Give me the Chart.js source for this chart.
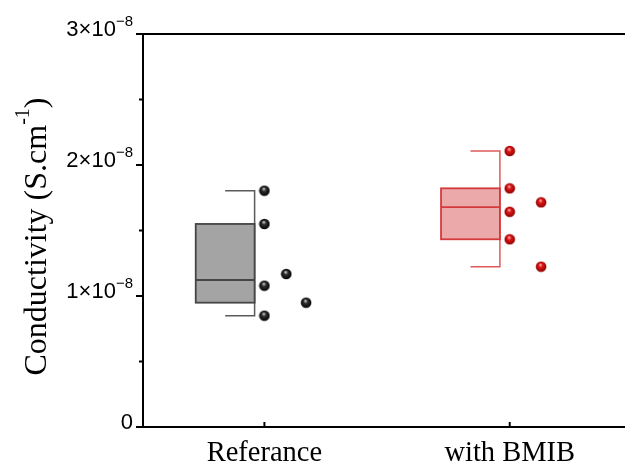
<!DOCTYPE html>
<html>
<head>
<meta charset="utf-8">
<script src="https://cdn.jsdelivr.net/npm/chart.js@4"></script>
<style>
  html, body { margin: 0; padding: 0; background: #fff; }
  #wrap { width: 625px; height: 466px; }
</style>
</head>
<body>
<div id="wrap"><canvas id="plot"></canvas></div>
<script>
// Conductivity in units of 1e-8 S/cm
const categories = ['Referance', 'with BMIB'];

const refX = [1, 1, 1.089, 1, 1.17, 1];
const refY = [1.804, 1.550, 1.168, 1.079, 0.949, 0.850];
const bmibX = [2, 2, 2.128, 2, 2, 2.128];
const bmibY = [2.107, 1.822, 1.715, 1.643, 1.433, 1.224];

// box statistics: whisker low, Q1, median, Q3, whisker high
const boxLow = [0.850, 1.224];
const boxQ1 = [0.949, 1.433];
const boxMedian = [1.122, 1.679];
const boxQ3 = [1.550, 1.822];
const boxHigh = [1.804, 2.107];

const yTicks = [0, 1, 2, 3];
const yMinorTicks = [0.5, 1.5, 2.5];

const boxColors = [
  { fill: '#a4a4a4', border: '#454545', whisker: '#5a5a5a' },
  { fill: '#eba9aa', border: '#d43a3c', whisker: '#e05a5c' }
];

// small shaded ball used as point marker
function sphere(light, mid, dark) {
  const c = document.createElement('canvas');
  c.width = 12; c.height = 12;
  const g = c.getContext('2d');
  const grad = g.createRadialGradient(5.3, 4, 0.3, 6, 6, 5.5);
  grad.addColorStop(0, light);
  grad.addColorStop(0.35, mid);
  grad.addColorStop(1, dark);
  g.fillStyle = grad;
  g.beginPath();
  g.arc(6, 6, 5.3, 0, Math.PI * 2);
  g.fill();
  return c;
}
const blackBall = sphere('#d0d0d0', '#303030', '#000');
const redBall = sphere('#ffb0b0', '#dd1515', '#8c0000');

const toPoints = (xs, ys) => xs.map((x, i) => ({ x: x, y: ys[i] }));

const boxPlugin = {
  id: 'boxes',
  beforeDatasetsDraw(chart) {
    const ctx = chart.ctx;
    const xs = chart.scales.x, ys = chart.scales.y;
    ctx.save();
    categories.forEach((cat, i) => {
      const c = i + 1;
      const col = boxColors[i];
      const xl = xs.getPixelForValue(c - 0.28);
      const xr = xs.getPixelForValue(c - 0.04);
      const xcap = xs.getPixelForValue(c - 0.16);
      const yq1 = ys.getPixelForValue(boxQ1[i]);
      const yq3 = ys.getPixelForValue(boxQ3[i]);
      const ymed = ys.getPixelForValue(boxMedian[i]);
      const ylo = ys.getPixelForValue(boxLow[i]);
      const yhi = ys.getPixelForValue(boxHigh[i]);

      // whiskers
      ctx.strokeStyle = col.whisker;
      ctx.lineWidth = 1.5;
      ctx.beginPath();
      ctx.moveTo(xcap, yhi); ctx.lineTo(xr, yhi); ctx.lineTo(xr, ylo); ctx.lineTo(xcap, ylo);
      ctx.stroke();

      // box
      ctx.fillStyle = col.fill;
      ctx.fillRect(xl, yq3, xr - xl, yq1 - yq3);
      ctx.strokeStyle = col.border;
      ctx.lineWidth = 1.8;
      ctx.strokeRect(xl, yq3, xr - xl, yq1 - yq3);
      ctx.beginPath();
      ctx.moveTo(xl, ymed); ctx.lineTo(xr, ymed);
      ctx.stroke();
    });
    ctx.restore();
  },
  afterDraw(chart) {
    const ctx = chart.ctx;
    const xs = chart.scales.x, ys = chart.scales.y;
    const a = chart.chartArea;
    ctx.save();
    ctx.strokeStyle = '#000';
    ctx.fillStyle = '#000';

    // frame: top line
    ctx.lineWidth = 2;
    ctx.beginPath();
    ctx.moveTo(a.left - 1, a.top); ctx.lineTo(a.right, a.top);
    ctx.stroke();

    // y ticks
    yTicks.forEach(v => {
      const y = ys.getPixelForValue(v);
      ctx.beginPath(); ctx.moveTo(a.left - 7, y); ctx.lineTo(a.left, y); ctx.stroke();
    });
    yMinorTicks.forEach(v => {
      const y = ys.getPixelForValue(v);
      ctx.beginPath(); ctx.moveTo(a.left - 4, y); ctx.lineTo(a.left, y); ctx.stroke();
    });
    // x ticks (inside)
    categories.forEach((cat, i) => {
      const x = xs.getPixelForValue(i + 1);
      ctx.beginPath(); ctx.moveTo(x, a.bottom); ctx.lineTo(x, a.bottom - 5); ctx.stroke();
    });

    // y tick labels with power-of-ten exponent
    const right = a.left - 10;
    yTicks.forEach(v => {
      const y = ys.getPixelForValue(v) + 2;
      ctx.textBaseline = 'alphabetic';
      ctx.textAlign = 'left';
      if (v === 0) {
        ctx.font = '22px "Liberation Sans", Arial, sans-serif';
        const w = ctx.measureText('0').width;
        ctx.fillText('0', right - w, y);
        return;
      }
      ctx.font = '15px "Liberation Sans", Arial, sans-serif';
      const sup = '\u22128';
      const sw = ctx.measureText(sup).width;
      ctx.font = '22px "Liberation Sans", Arial, sans-serif';
      const main = v + '\u00d710';
      const mw = ctx.measureText(main).width;
      ctx.fillText(main, right - sw - mw, y);
      ctx.font = '15px "Liberation Sans", Arial, sans-serif';
      ctx.fillText(sup, right - sw, y - 10);
    });

    // category labels
    ctx.font = '28.5px "Liberation Serif", "Times New Roman", serif';
    ctx.textAlign = 'center';
    categories.forEach((cat, i) => {
      ctx.fillText(cat, xs.getPixelForValue(i + 1), 461);
    });

    // y axis title, rotated
    ctx.translate(46, (a.top + a.bottom) / 2 + 6);
    ctx.rotate(-Math.PI / 2);
    ctx.textAlign = 'left';
    const bigFont = '32px "Liberation Serif", "Times New Roman", serif';
    const supFont = '20px "Liberation Serif", "Times New Roman", serif';
    const parts = [
      { t: 'Conductivity (S.cm', f: bigFont, dy: 0 },
      { t: '-1', f: supFont, dy: -17 },
      { t: ')', f: bigFont, dy: 0 }
    ];
    let total = 0;
    parts.forEach(p => { ctx.font = p.f; p.w = ctx.measureText(p.t).width; total += p.w; });
    let px = -total / 2;
    parts.forEach(p => { ctx.font = p.f; ctx.fillText(p.t, px, p.dy); px += p.w; });
    ctx.restore();
  }
};

const ctx = document.getElementById('plot');
new Chart(ctx, {
  type: 'scatter',
  data: {
    datasets: [
      {
        label: categories[0],
        data: toPoints(refX, refY),
        pointStyle: blackBall,
        pointRadius: 6,
        pointHoverRadius: 6
      },
      {
        label: categories[1],
        data: toPoints(bmibX, bmibY),
        pointStyle: redBall,
        pointRadius: 6,
        pointHoverRadius: 6
      }
    ]
  },
  options: {
    responsive: true,
    maintainAspectRatio: false,
    animation: false,
    layout: { autoPadding: false, padding: { top: 34, right: 0, left: 0, bottom: 0 } },
    plugins: {
      legend: { display: false },
      tooltip: { enabled: false }
    },
    scales: {
      x: {
        type: 'linear',
        min: 0.505,
        max: 2.47,
        grid: { display: false },
        ticks: { display: false },
        border: { display: true, color: '#000', width: 2 },
        afterFit: s => { s.height = 39; s.paddingLeft = 0; s.paddingRight = 0; }
      },
      y: {
        min: 0,
        max: 3,
        grid: { display: false },
        ticks: { display: false },
        border: { display: true, color: '#000', width: 2 },
        afterFit: s => { s.width = 143; }
      }
    }
  },
  plugins: [boxPlugin]
});
</script>
</body>
</html>
